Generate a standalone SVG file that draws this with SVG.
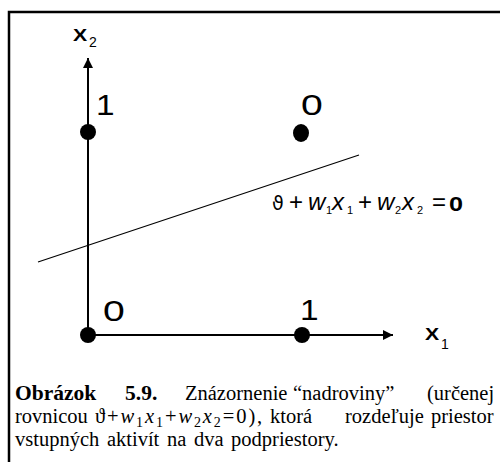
<svg xmlns="http://www.w3.org/2000/svg" width="500" height="462" viewBox="0 0 500 462">
<style>
.ax{stroke:#000;stroke-width:2;fill:none}
.dot{fill:#000}
.lbl{font-family:"Liberation Sans",Arial,sans-serif;font-size:29px;fill:#000}
.axl{font-family:"Liberation Sans",Arial,sans-serif;font-weight:bold;font-size:17px;fill:#000}
.sub{font-family:"Liberation Sans",Arial,sans-serif;font-size:14px;fill:#000}
.eq{font-family:"Liberation Sans",Arial,sans-serif;font-size:24px;fill:#000}
.cap{font-family:"Liberation Serif","Times New Roman","DejaVu Serif",serif;font-size:20.5px;fill:#000}
.b{font-weight:bold;font-size:21.5px}
</style>
<defs>
<marker id="ah" viewBox="0 0 10 10" refX="10" refY="5" markerWidth="10" markerHeight="10" markerUnits="userSpaceOnUse" orient="auto">
<path d="M0,0 L10,5 L0,10 z" fill="#000"/>
</marker>
</defs>
<rect x="9" y="12" width="520" height="480" fill="none" stroke="#000" stroke-width="2.5"/>
<g id="connectors">
<line class="ax" x1="88" y1="335" x2="88" y2="58" marker-end="url(#ah)"/>
<line class="ax" x1="88" y1="335" x2="393" y2="335" marker-end="url(#ah)"/>
<line x1="38" y1="262" x2="359" y2="155" stroke="#000" stroke-width="1.3"/>
</g>
<g id="axis-x2"><text class="axl" transform="translate(73,41) scale(1.25,1)">X</text><text class="sub" x="89" y="47">2</text></g>
<g id="axis-x1"><text class="axl" transform="translate(425,340) scale(1.25,1)">X</text><text class="sub" x="441" y="349">1</text></g>
<g id="p01"><circle class="dot" cx="88" cy="132" r="8"/><text class="lbl" transform="translate(96,115) scale(1.15,1)">1</text></g>
<g id="p11"><ellipse class="dot" cx="301" cy="133" rx="8" ry="9"/><text class="lbl" transform="translate(301,115) scale(1.35,1)">0</text></g>
<g id="p00"><circle class="dot" cx="88" cy="335" r="8"/><text class="lbl" transform="translate(103,321) scale(1.35,1)">0</text></g>
<g id="p10"><circle class="dot" cx="302" cy="335" r="8"/><text class="lbl" transform="translate(300,320) scale(1.15,1)">1</text></g>
<g id="equation">
<text class="eq" style="font-family:'DejaVu Sans',sans-serif;font-size:19px" x="272" y="210">ϑ</text>
<text class="eq" x="289" y="210">+</text>
<text class="eq" font-style="italic" x="308" y="210">w</text>
<text class="sub" style="font-size:11px" x="326" y="214">1</text>
<text class="eq" font-style="italic" x="332" y="210">x</text>
<text class="sub" style="font-size:11px" x="347" y="214">1</text>
<text class="eq" x="358" y="210">+</text>
<text class="eq" font-style="italic" x="377" y="210">w</text>
<text class="sub" style="font-size:11px" x="395" y="214">2</text>
<text class="eq" font-style="italic" x="402" y="210">x</text>
<text class="sub" style="font-size:11px" x="417" y="214">2</text>
<text class="eq" x="432" y="210">=</text>
<text class="eq" font-weight="bold" transform="translate(449,211) scale(1.2,1)" style="font-size:21px">0</text>
</g>
<g id="caption">
<text class="cap" y="400"><tspan class="b" x="15">Obrázok</tspan><tspan class="b" x="125">5.9.</tspan><tspan x="185">Znázornenie</tspan><tspan x="293">“nadroviny”</tspan><tspan x="427">(určenej</tspan></text>
<text class="cap" y="423"><tspan x="15">rovnicou</tspan><tspan x="95" letter-spacing="1.9">ϑ+<tspan font-style="italic">w</tspan><tspan font-size="14" dy="4">1</tspan><tspan font-style="italic" dy="-4">x</tspan><tspan font-size="14" dy="4">1</tspan><tspan dy="-4">+</tspan><tspan font-style="italic">w</tspan><tspan font-size="14" dy="4">2</tspan><tspan font-style="italic" dy="-4">x</tspan><tspan font-size="14" dy="4">2</tspan><tspan dy="-4">=0),</tspan></tspan><tspan x="270">ktorá</tspan><tspan x="345">rozdeľuje</tspan><tspan x="431">priestor</tspan></text>
<text class="cap" x="15" y="446" word-spacing="2.5">vstupných aktivít na dva podpriestory.</text>
</g>
</svg>
